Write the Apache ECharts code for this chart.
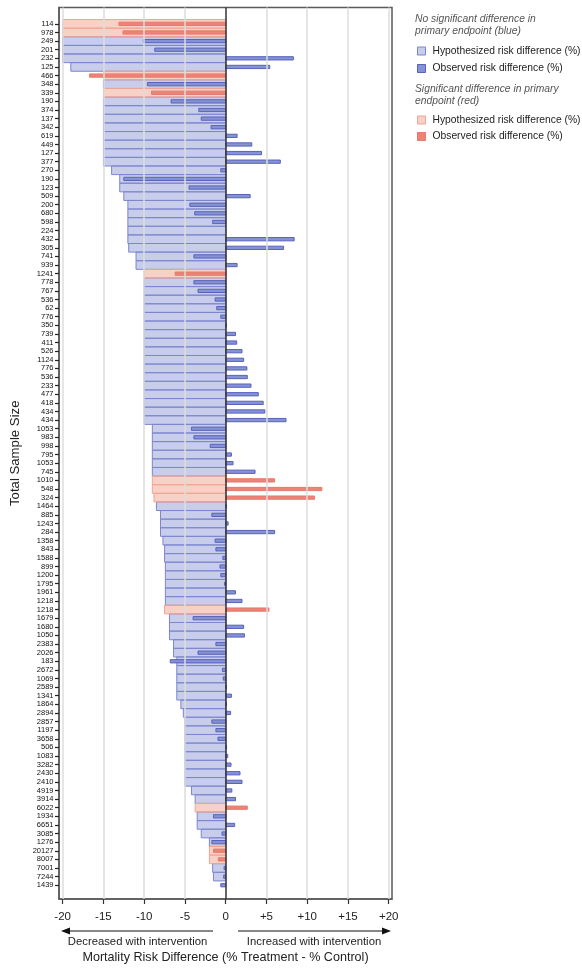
<!DOCTYPE html>
<html>
<head>
<meta charset="utf-8">
<script src="https://cdn.jsdelivr.net/npm/echarts@6/dist/echarts.min.js"></script>
<style>
  html, body { margin: 0; padding: 0; background: #ffffff; }
  #chart { width: 582px; height: 969px; }
</style>
</head>
<body>
<div id="chart"></div>
<script>
// Trials, ordered by hypothesized effect size (top to bottom)
const sampleSizes = [
  114, 978, 249, 201, 232, 125, 466, 348, 339, 190,
  374, 137, 342, 619, 449, 127, 377, 270, 190, 123,
  509, 200, 680, 598, 224, 432, 305, 741, 939, 1241,
  778, 767, 536, 62, 776, 350, 739, 411, 526, 1124,
  776, 536, 233, 477, 418, 434, 434, 1053, 983, 998,
  795, 1053, 745, 1010, 548, 324, 1464, 885, 1243, 284,
  1358, 843, 1588, 899, 1200, 1795, 1961, 1218, 1218, 1679,
  1680, 1050, 2383, 2026, 183, 2672, 1069, 2589, 1341, 1864,
  2894, 2857, 1197, 3658, 506, 1083, 3282, 2430, 2410, 4919,
  3914, 6022, 1934, 6651, 3085, 1276, 20127, 8007, 7001, 7244,
  1439
];

// Hypothesized mortality risk difference (%)
const hypothesized = [
  -20, -20, -20, -20, -20, -19, -15, -15, -15, -15,
  -15, -15, -15, -15, -15, -15, -15, -14, -13, -13,
  -12.5, -12, -12, -12, -12, -12, -11.9, -11, -11, -10,
  -10, -10, -10, -10, -10, -10, -10, -10, -10, -10,
  -10, -10, -10, -10, -10, -10, -10, -9, -9, -9,
  -9, -9, -9, -9, -9, -8.8, -8.5, -8, -8, -8,
  -7.7, -7.5, -7.5, -7.4, -7.4, -7.4, -7.4, -7.4, -7.5, -6.9,
  -6.9, -6.9, -6.4, -6.4, -6, -6, -6, -6, -6, -5.5,
  -5.2, -5, -5, -5, -5, -5, -5, -5, -5, -4.2,
  -3.75, -3.75, -3.5, -3.5, -3, -2, -2, -2, -1.6, -1.5,
  0
];

// Observed mortality risk difference (%)
const observed = [
  -13.1, -12.6, -10.1, -8.7, 8.3, 5.4, -16.7, -9.6, -9.1, -6.7,
  -3.3, -3.0, -1.8, 1.4, 3.2, 4.4, 6.7, -0.6, -12.5, -4.5,
  3.0, -4.4, -3.8, -1.6, 0, 8.4, 7.1, -3.9, 1.4, -6.2,
  -3.9, -3.4, -1.3, -1.1, -0.6, 0.1, 1.2, 1.35, 2.0, 2.2,
  2.6, 2.65, 3.1, 4.0, 4.6, 4.8, 7.4, -4.2, -3.9, -1.9,
  0.7, 0.9, 3.6, 6.0, 11.8, 10.9, 0.1, -1.7, 0.3, 6.0,
  -1.3, -1.2, -0.35, -0.7, -0.6, -0.15, 1.2, 2.0, 5.3, -4.0,
  2.2, 2.3, -1.2, -3.4, -6.8, -0.4, -0.3, 0.1, 0.7, 0.1,
  0.6, -1.7, -1.2, -0.95, 0.1, 0.25, 0.65, 1.75, 2.0, 0.75,
  1.2, 2.65, -1.5, 1.1, -0.45, -1.7, -1.5, -0.9, -0.2, -0.25,
  -0.6
];

// 1 = significant difference in primary endpoint
const significant = [
  1, 1, 0, 0, 0, 0, 1, 0, 1, 0,
  0, 0, 0, 0, 0, 0, 0, 0, 0, 0,
  0, 0, 0, 0, 0, 0, 0, 0, 0, 1,
  0, 0, 0, 0, 0, 0, 0, 0, 0, 0,
  0, 0, 0, 0, 0, 0, 0, 0, 0, 0,
  0, 0, 0, 1, 1, 1, 0, 0, 0, 0,
  0, 0, 0, 0, 0, 0, 0, 0, 1, 0,
  0, 0, 0, 0, 0, 0, 0, 0, 0, 0,
  0, 0, 0, 0, 0, 0, 0, 0, 0, 0,
  0, 1, 0, 0, 0, 0, 1, 1, 0, 0,
  0
];

const xTickValues = [-20, -15, -10, -5, 0, 5, 10, 15, 20];
const gridLineValues = [-20, -15, -10, -5, 5, 10, 15, 20];

const legendLabels = {
  hypNs: 'Hypothesized risk difference (%)',
  obsNs: 'Observed risk difference (%)',
  hypSig: 'Hypothesized risk difference (%)',
  obsSig: 'Observed risk difference (%)'
};

const styles = {
  hypNs:  { color: 'rgba(146,156,216,0.5)', borderColor: '#7c86ce', borderWidth: 1 },
  obsNs:  { color: '#8692d4', borderColor: '#5763bb', borderWidth: 1 },
  hypSig: { color: 'rgba(238,150,128,0.45)', borderColor: '#f2a596', borderWidth: 1 },
  obsSig: { color: '#ec8377', borderColor: '#e77a6d', borderWidth: 1 }
};

const rowIndex = sampleSizes.map((_, i) => i);

function pick(values, sigFlag) {
  return rowIndex
    .filter(i => significant[i] === sigFlag && values[i] !== 0)
    .map(i => [values[i], i]);
}

// Horizontal bar from 0 to the value, centred on its row
function barRenderer(heightFrac) {
  return function (params, api) {
    const row = api.value(1);
    const from = api.coord([0, row]);
    const to = api.coord([api.value(0), row]);
    const h = api.size([0, 1])[1] * heightFrac;
    return {
      type: 'rect',
      shape: {
        x: Math.min(from[0], to[0]),
        y: from[1] - h / 2,
        width: Math.abs(to[0] - from[0]),
        height: h
      },
      style: api.style()
    };
  };
}

function barSeries(name, data, heightFrac, z) {
  return {
    name: name,
    type: 'custom',
    renderItem: barRenderer(heightFrac),
    encode: { x: 0, y: 1 },
    itemStyle: styles[name],
    data: data,
    z: z
  };
}

const frameColor = '#5a5a5a';
const textColor = '#222';

const chart = echarts.init(document.getElementById('chart'), null, { renderer: 'canvas' });

chart.setOption({
  animation: false,
  backgroundColor: '#ffffff',
  textStyle: { fontFamily: '"Liberation Sans", Arial, sans-serif' },
  grid: {
    left: 59, right: 190, top: 7.5, bottom: 66,
    show: true, borderColor: frameColor, borderWidth: 1.5, backgroundColor: 'transparent'
  },
  xAxis: {
    type: 'value',
    min: -20.45,
    max: 20.4,
    axisLine: { show: true, onZero: false, lineStyle: { color: frameColor, width: 1.5 } },
    axisTick: { show: true, length: 5, customValues: xTickValues, lineStyle: { color: '#333', width: 1.2 } },
    axisLabel: {
      customValues: xTickValues,
      margin: 12,
      fontSize: 11.5,
      color: textColor,
      formatter: v => (v > 0 ? '+' + v : String(v))
    },
    splitLine: { show: false },
    name: 'Mortality Risk Difference (% Treatment - % Control)',
    nameLocation: 'middle',
    nameGap: 52,
    nameTextStyle: { fontSize: 12.6, color: textColor }
  },
  yAxis: {
    type: 'value',
    inverse: true,
    min: -1.9,
    max: 101.6,
    axisLine: { show: true, onZero: false, lineStyle: { color: frameColor, width: 1.5 } },
    axisTick: { show: true, length: 4, customValues: rowIndex, lineStyle: { color: '#222', width: 1.2 } },
    axisLabel: {
      customValues: rowIndex,
      margin: 5.5,
      fontSize: 7.5,
      fontFamily: '"Liberation Sans Narrow", "Arial Narrow", "Liberation Sans", sans-serif',
      color: '#111',
      formatter: v => String(sampleSizes[v])
    },
    splitLine: { show: false },
    name: 'Total Sample Size',
    nameLocation: 'middle',
    nameGap: 26,
    nameRotate: 90,
    nameTextStyle: { fontSize: 13.2, color: textColor }
  },
  title: [
    {
      text: 'No significant difference in\nprimary endpoint (blue)',
      left: 415, top: 13, padding: 0,
      textStyle: { fontSize: 10.3, fontStyle: 'italic', fontWeight: 'normal', color: '#555', lineHeight: 12 }
    },
    {
      text: 'Significant difference in primary\nendpoint (red)',
      left: 415, top: 83.5, padding: 0,
      textStyle: { fontSize: 10.3, fontStyle: 'italic', fontWeight: 'normal', color: '#555', lineHeight: 12 }
    }
  ],
  legend: [
    {
      orient: 'vertical', left: 417, top: 45, padding: 0,
      icon: 'rect', itemWidth: 8, itemHeight: 8, itemGap: 5.5,
      selectedMode: false,
      textStyle: { fontSize: 10.3, color: textColor, lineHeight: 12, padding: [0, 0, 0, 2] },
      formatter: name => legendLabels[name],
      data: [
        { name: 'hypNs', itemStyle: styles.hypNs },
        { name: 'obsNs', itemStyle: styles.obsNs }
      ]
    },
    {
      orient: 'vertical', left: 417, top: 114, padding: 0,
      icon: 'rect', itemWidth: 8, itemHeight: 8, itemGap: 4.5,
      selectedMode: false,
      textStyle: { fontSize: 10.3, color: textColor, lineHeight: 12, padding: [0, 0, 0, 2] },
      formatter: name => legendLabels[name],
      data: [
        { name: 'hypSig', itemStyle: styles.hypSig },
        { name: 'obsSig', itemStyle: styles.obsSig }
      ]
    }
  ],
  series: [
    {
      name: 'gridLines',
      type: 'line',
      data: [],
      z: 1,
      markLine: {
        silent: true,
        symbol: ['none', 'none'],
        label: { show: false },
        lineStyle: { color: '#dddddd', width: 1.5, type: 'solid' },
        data: gridLineValues.map(v => ({ xAxis: v }))
      }
    },
    barSeries('hypNs', pick(hypothesized, 0), 1.0, 2),
    barSeries('hypSig', pick(hypothesized, 1), 1.0, 2),
    barSeries('obsNs', pick(observed, 0), 0.38, 3),
    barSeries('obsSig', pick(observed, 1), 0.38, 3),
    {
      name: 'zeroLine',
      type: 'line',
      data: [],
      z: 5,
      markLine: {
        silent: true,
        symbol: ['none', 'none'],
        label: { show: false },
        lineStyle: { color: '#333', width: 1.5, type: 'solid' },
        data: [{ xAxis: 0 }]
      }
    }
  ],
  graphic: [
    // direction arrows under the axis
    { type: 'line', shape: { x1: 213, y1: 931, x2: 68, y2: 931 }, style: { stroke: '#111', lineWidth: 1.2 } },
    { type: 'polygon', shape: { points: [[61, 931], [70, 927.5], [70, 934.5]] }, style: { fill: '#111' } },
    { type: 'line', shape: { x1: 238, y1: 931, x2: 383, y2: 931 }, style: { stroke: '#111', lineWidth: 1.2 } },
    { type: 'polygon', shape: { points: [[391, 931], [382, 927.5], [382, 934.5]] }, style: { fill: '#111' } },
    {
      type: 'text', x: 137.5, y: 941.5,
      style: { text: 'Decreased with intervention', fontSize: 11.3, fill: textColor, align: 'center', verticalAlign: 'middle', fontFamily: '"Liberation Sans", Arial, sans-serif' }
    },
    {
      type: 'text', x: 314, y: 941.5,
      style: { text: 'Increased with intervention', fontSize: 11.3, fill: textColor, align: 'center', verticalAlign: 'middle', fontFamily: '"Liberation Sans", Arial, sans-serif' }
    }
  ]
});
</script>
</body>
</html>
